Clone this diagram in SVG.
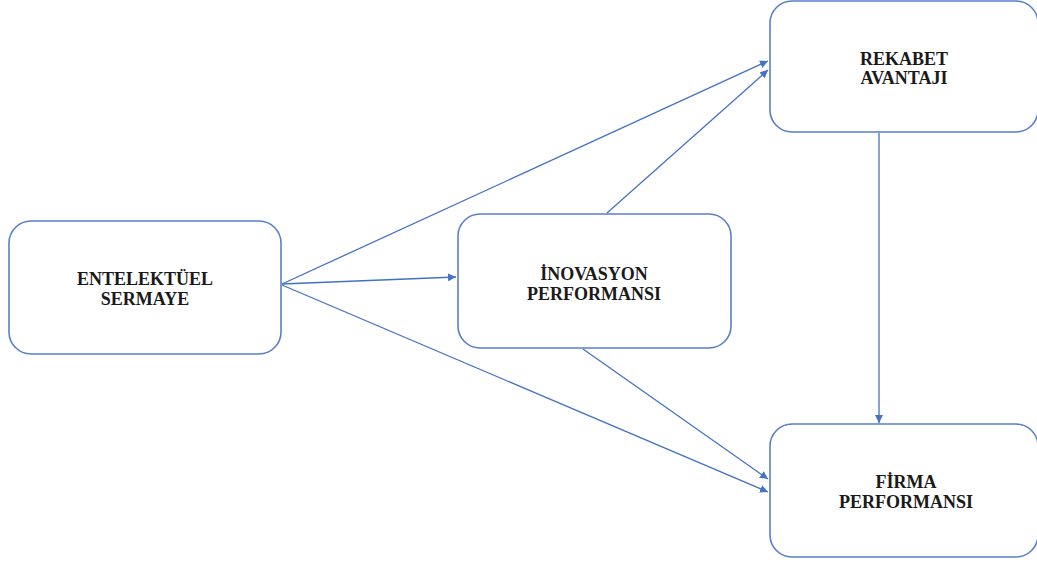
<svg xmlns="http://www.w3.org/2000/svg" width="1037" height="564" viewBox="0 0 1037 564">
  <defs>
    <marker id="arrow" viewBox="0 0 10 10" refX="10" refY="5" markerWidth="8" markerHeight="8" markerUnits="userSpaceOnUse" orient="auto">
      <path d="M0,0 L10,5 L0,10 z" fill="#4472C4"/>
    </marker>
    <style>
      .box { fill: #ffffff; stroke: #5A7FCB; stroke-width: 1.6; }
      .label { font-family: "Liberation Serif", "Times New Roman", serif; font-weight: bold; font-size: 18px; fill: #1a1a1a; text-anchor: middle; }
      .link { fill: none; stroke: #4472C4; stroke-width: 1.3; marker-end: url(#arrow); }
    </style>
  </defs>
  <rect width="1037" height="564" fill="#ffffff"/>

  <g id="connectors">
    <line class="link" x1="282" y1="284" x2="768" y2="61"/>
    <line class="link" x1="282" y1="284" x2="456" y2="277"/>
    <line class="link" x1="282" y1="285" x2="768" y2="492"/>
    <line class="link" x1="607" y1="213" x2="768" y2="70"/>
    <line class="link" x1="583" y1="349" x2="768" y2="479"/>
    <line class="link" x1="879" y1="133" x2="879" y2="423"/>
  </g>

  <g id="entelektuel-sermaye">
    <rect class="box" x="9" y="221" width="272" height="133" rx="22"/>
    <text class="label" x="145" y="285">ENTELEKTÜEL</text>
    <text class="label" x="145" y="305">SERMAYE</text>
  </g>

  <g id="inovasyon-performansi">
    <rect class="box" x="458" y="214" width="273" height="134" rx="22"/>
    <text class="label" x="594" y="280">İNOVASYON</text>
    <text class="label" x="594" y="300">PERFORMANSI</text>
  </g>

  <g id="rekabet-avantaji">
    <rect class="box" x="770" y="1" width="268" height="131" rx="22"/>
    <text class="label" x="904" y="65">REKABET</text>
    <text class="label" x="904" y="84">AVANTAJI</text>
  </g>

  <g id="firma-performansi">
    <rect class="box" x="770" y="424" width="268" height="133" rx="22"/>
    <text class="label" x="906" y="488">FİRMA</text>
    <text class="label" x="906" y="508">PERFORMANSI</text>
  </g>
</svg>
